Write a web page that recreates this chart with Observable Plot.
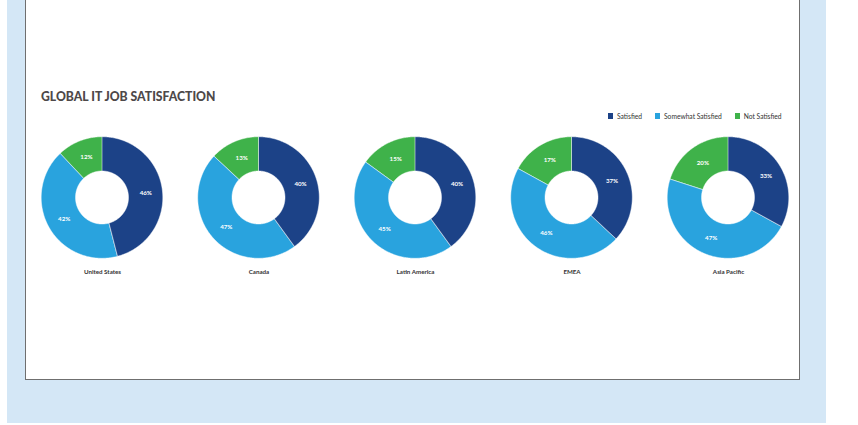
<!DOCTYPE html>
<html>
<head>
<meta charset="utf-8">
<script src="https://cdn.jsdelivr.net/npm/d3@7"></script>
<script src="https://cdn.jsdelivr.net/npm/@observablehq/plot@0.6"></script>
<style>
  html, body { margin: 0; padding: 0; background: #ffffff; width: 858px; height: 425px; overflow: hidden; }
  #bg { position: absolute; left: 7px; top: 0; width: 819px; height: 423px; background: #d4e7f6; }
  #card { position: absolute; left: 25px; top: -2px; width: 775px; height: 382px; box-sizing: border-box;
          background: #ffffff; border: 1.5px solid #6f6f6f; }
  #title { position: absolute; left: 41px; top: 91px; font-family: Lato, "Open Sans", sans-serif; font-weight: 900;
           font-size: 12.2px; line-height: 12px; color: #4d4849; letter-spacing: 0px; white-space: nowrap; }
  #legend { position: absolute; left: 608px; top: 112px; height: 8px; display: flex; align-items: center;
            font-family: Lato, "Open Sans", sans-serif; font-size: 6.7px; color: #333333; white-space: nowrap; }
  #legend .item { display: flex; align-items: center; margin-right: 13px; }
  #legend .sw { width: 5px; height: 6px; margin-right: 4px; }
  #chart { position: absolute; left: 0; top: 125px; }
</style>
</head>
<body>
<div id="bg"></div>
<div id="card"></div>
<div id="title">GLOBAL IT JOB SATISFACTION</div>
<div id="legend"></div>
<div id="chart"></div>
<script>
// ---- data ----
const regions = ["United States", "Canada", "Latin America", "EMEA", "Asia Pacific"];
const categories = ["Satisfied", "Somewhat Satisfied", "Not Satisfied"];
const satisfied = [46, 40, 40, 37, 33];
const somewhatSatisfied = [42, 47, 45, 46, 47];
const notSatisfied = [12, 13, 15, 17, 20];
const colors = ["#1c4287", "#29a3de", "#3fb24a"];

// ---- layout (unit = distance between donut centres) ----
const unit = 156.5;          // px per x/y unit
const cy = 72.5;             // donut centre, px from svg top
const R = 60.8 / unit;       // outer radius in units
const r0 = 26.5 / unit;      // inner radius in units

const series = [satisfied, somewhatSatisfied, notSatisfied];

// build ring-slice outlines (outer edge = x1/y1, inner edge = x2/y2)
const rings = [];
const labels = [];
regions.forEach((region, i) => {
  let start = 0;
  categories.forEach((cat, j) => {
    const v = series[j][i];
    const a0 = start / 100 * 2 * Math.PI;
    const a1 = (start + v) / 100 * 2 * Math.PI;
    const n = Math.max(2, Math.ceil((a1 - a0) / (Math.PI / 180)));
    for (let k = 0; k <= n; k++) {
      const a = a0 + (a1 - a0) * k / n;
      rings.push({
        region, cat, key: region + "|" + cat,
        x1: i + R * Math.sin(a), y1: R * Math.cos(a),
        x2: i + r0 * Math.sin(a), y2: r0 * Math.cos(a)
      });
    }
    const am = (a0 + a1) / 2, rm = (R + r0) / 2;
    labels.push({ region, cat, text: v + "%", x: i + rm * Math.sin(am), y: rm * Math.cos(am) });
    start += v;
  });
});

const chart = Plot.plot({
  width: 858,
  height: 160,
  x: { domain: [-0.5, 4.5], range: [23.75, 806.25], axis: null },
  y: { domain: [-1, 1], range: [cy + unit, cy - unit], axis: null },
  color: { domain: categories, range: colors },
  style: { background: "transparent", overflow: "visible" },
  marks: [
    Plot.area(rings, { x1: "x1", y1: "y1", x2: "x2", y2: "y2", z: "key", fill: "cat",
                       stroke: "#ffffff", strokeWidth: 0.6, strokeOpacity: 0.8 }),
    Plot.text(labels, { x: "x", y: "y", text: "text", fill: "#ffffff", fontSize: 6.2,
                        fontWeight: "bold", fontFamily: "Lato, sans-serif" }),
    Plot.text(regions, { x: (d, i) => i, y: -R, dy: 13, text: d => d, fill: "#333333",
                         fontSize: 6.2, fontWeight: "bold", fontFamily: "Lato, sans-serif" })
  ]
});
document.getElementById("chart").appendChild(chart);

// legend
const lg = document.getElementById("legend");
categories.forEach((c, j) => {
  const it = document.createElement("div");
  it.className = "item";
  const sw = document.createElement("div");
  sw.className = "sw";
  sw.style.background = colors[j];
  const tx = document.createElement("span");
  tx.textContent = c;
  it.appendChild(sw); it.appendChild(tx);
  lg.appendChild(it);
});
</script>
</body>
</html>
